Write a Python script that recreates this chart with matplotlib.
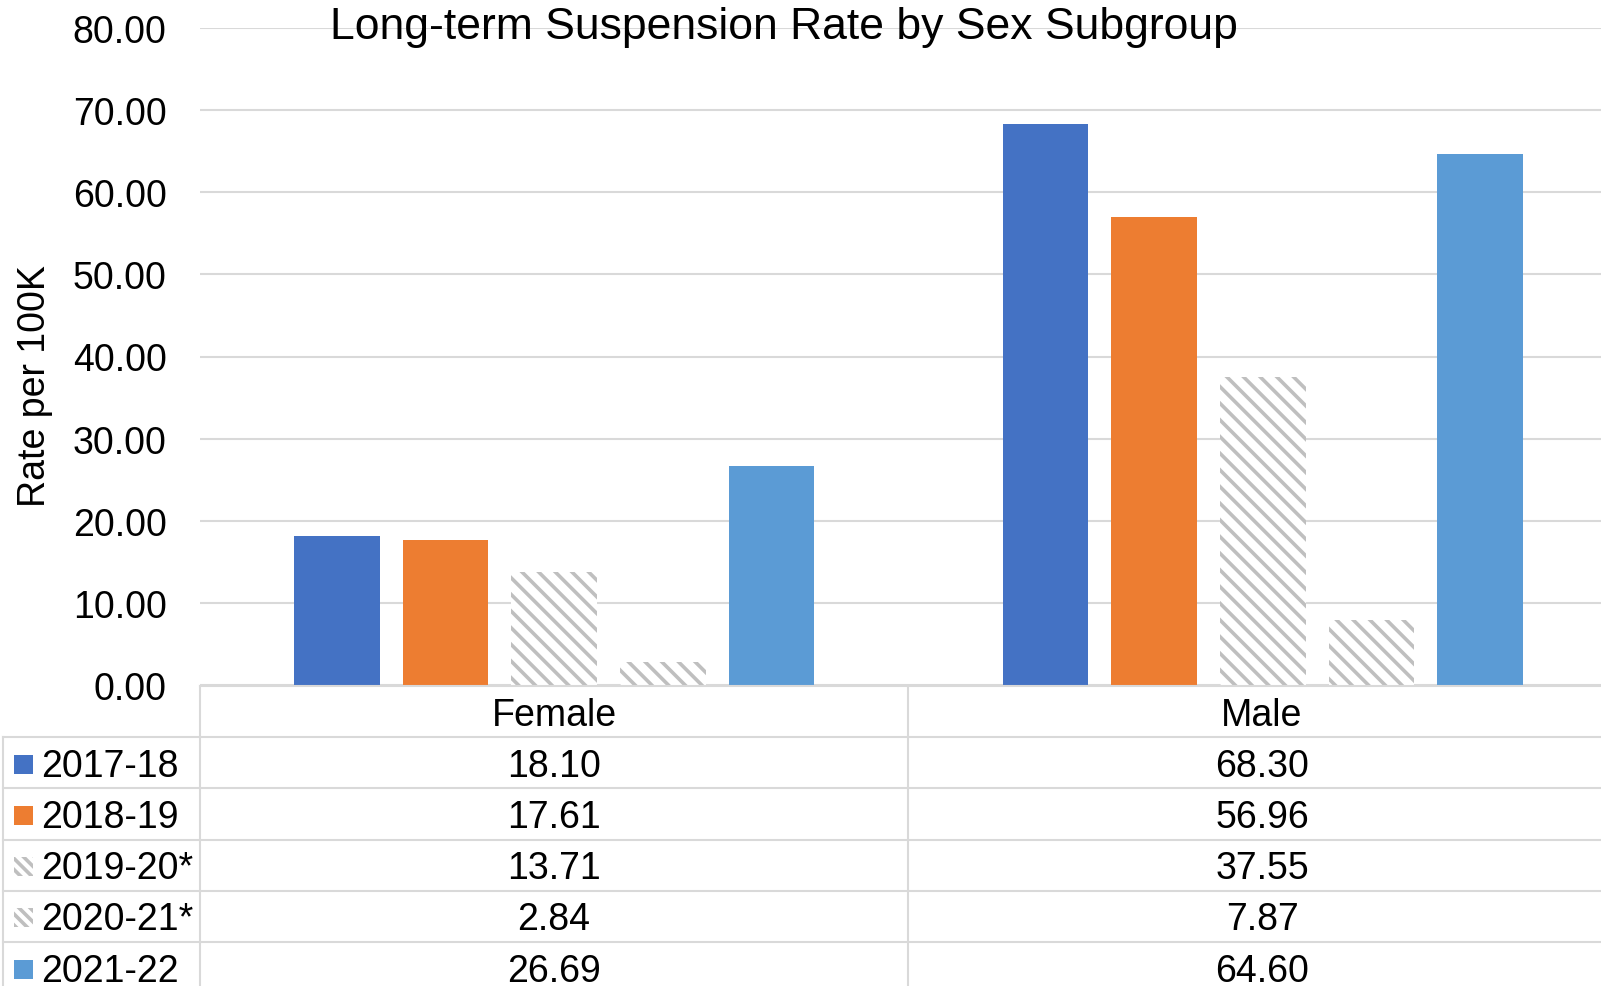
import matplotlib
matplotlib.use("Agg")
import matplotlib.pyplot as plt
import matplotlib.patches as patches
import numpy as np

plt.rcParams["font.family"] = ["Liberation Sans", "DejaVu Sans"]
plt.rcParams["hatch.linewidth"] = 2.6

categories = ["Female", "Male"]
years = ["2017-18", "2018-19", "2019-20*", "2020-21*", "2021-22"]
rate_2017_18 = [18.10, 68.30]
rate_2018_19 = [17.61, 56.96]
rate_2019_20 = [13.71, 37.55]
rate_2020_21 = [2.84, 7.87]
rate_2021_22 = [26.69, 64.60]
series = [rate_2017_18, rate_2018_19, rate_2019_20, rate_2020_21, rate_2021_22]

colors = ["#4472c4", "#ed7d31", "white", "white", "#5b9bd5"]
hatches = [None, None, "\\\\", "\\\\", None]
grid_col = "#d9d9d9"
hatch_col = "#bfbfbf"

W, H = 1601, 987
fig = plt.figure(figsize=(W / 100, H / 100), dpi=100)

# main bar axes (extends past the right edge, like the original)
ax = fig.add_axes([200 / W, 1 - 686 / H, 1417 / W, (686 - 29) / H])
x = np.arange(len(categories))
step = 0.1534
width = 0.121
for i, vals in enumerate(series):
    offs = (i - 2) * step
    if hatches[i]:
        ax.bar(x + offs, vals, width, facecolor="white", edgecolor=hatch_col,
               hatch=hatches[i], linewidth=0, zorder=3)
    else:
        ax.bar(x + offs, vals, width, color=colors[i], linewidth=0, zorder=3)

ax.set_xlim(-0.5, 1.5)
ax.set_ylim(0, 80)
ax.set_yticks(np.arange(0, 81, 10))
ax.set_yticklabels([f"{v:.2f}" for v in np.arange(0, 81, 10)])
ax.tick_params(axis="y", length=0, pad=24, labelsize=27)
ax.set_xticks([])
ax.grid(axis="y", color=grid_col, linewidth=1.5, zorder=0)
for s in ax.spines.values():
    s.set_visible(False)

fig.text(35 / W, 1 - 386 / H, "Rate per 100K", rotation=90, fontsize=27,
         ha="center", va="center")
fig.text(784 / W, 1 - 27 / H, "Long-term Suspension Rate by Sex Subgroup",
         fontsize=32, ha="center", va="center")

# data table below the plot, drawn in pixel coordinates
tb = fig.add_axes([0, 0, 1, 1])
tb.set_xlim(0, W)
tb.set_ylim(H, 0)
tb.axis("off")
tb.patch.set_alpha(0)

row_top = 687
row_h = 51.2
col_left, col_mid, col_right = 200, 908, W + 20
lw = 1.5
tb.plot([col_left, col_right], [row_top, row_top], color=grid_col, lw=lw)
for r in range(len(years) + 1):
    yl = row_top + row_h * (r + 1)
    tb.plot([3, col_right], [yl, yl], color=grid_col, lw=lw)
tb.plot([3, 3], [row_top + row_h, H + 10], color=grid_col, lw=lw)
tb.plot([col_left, col_left], [row_top, H + 10], color=grid_col, lw=lw)
tb.plot([col_mid, col_mid], [row_top, H + 10], color=grid_col, lw=lw)

col_centers = [554, 1262]
for c, name in enumerate(categories):
    tb.text(col_centers[c], row_top + row_h / 2 + 3, name, fontsize=27,
            ha="center", va="center")

for r, (yr, vals) in enumerate(zip(years, series)):
    yc = row_top + row_h * (r + 1.5) + 3
    if hatches[r]:
        key = patches.Rectangle((14, yc - 11), 19, 19, facecolor="white",
                                edgecolor=hatch_col, hatch="\\\\\\", linewidth=0)
    else:
        key = patches.Rectangle((14, yc - 11), 19, 19, facecolor=colors[r],
                                linewidth=0)
    tb.add_patch(key)
    tb.text(41, yc, yr, fontsize=27, ha="left", va="center")
    for c in range(len(categories)):
        tb.text(col_centers[c], yc, f"{vals[c]:.2f}", fontsize=27,
                ha="center", va="center")

fig.savefig("out.png", dpi=100)
